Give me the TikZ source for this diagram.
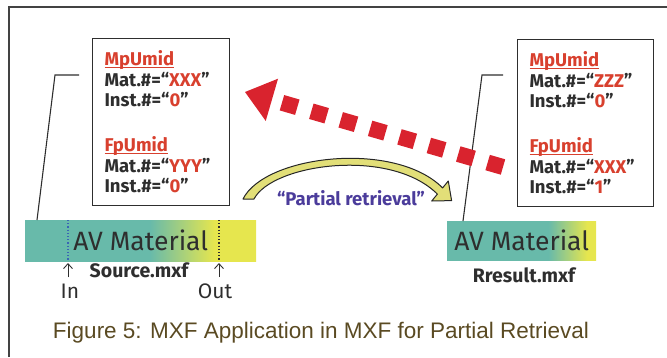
\documentclass[tikz,border=0pt]{standalone}
\usepackage{fontspec}
\usepackage{tikz}
\usetikzlibrary{positioning, arrows.meta, calc}
\setmainfont{Fira Sans}
\newfontfamily\capfont{Liberation Sans}
\usepackage{xcolor}

\definecolor{umidred}{HTML}{D8402E}
\definecolor{inkgray}{HTML}{2E2E2E}
\definecolor{avteal}{HTML}{68BAAA}
\definecolor{avyellow}{HTML}{E6E64E}
\definecolor{arrred}{HTML}{D9232E}
\definecolor{retpurple}{HTML}{4B3C9B}
\definecolor{capolive}{HTML}{5A4A22}
\definecolor{bendyellow}{HTML}{E2DF78}
\definecolor{inblue}{HTML}{3A64B4}

\pgfdeclarehorizontalshading{srcshade}{100bp}{color(0bp)=(avteal); color(52bp)=(avteal); color(66bp)=(avyellow); color(100bp)=(avyellow)}
\pgfdeclarehorizontalshading{resshade}{100bp}{color(0bp)=(avteal); color(59bp)=(avteal); color(72bp)=(avyellow); color(100bp)=(avyellow)}

\newcommand{\umid}[1]{\textcolor{umidred}{\setbox0\hbox{#1}\rlap{\rule[-2.5pt]{\wd0}{1.3pt}}\box0}}
\newcommand{\hl}[1]{\textcolor{umidred}{#1}}

\tikzset{
  umidbox/.style={draw=inkgray, line width=1.1pt, text=inkgray, align=left, anchor=north west,
    minimum width=137pt, minimum height=167pt, text width=113pt, inner xsep=12pt,
    font=\bfseries\fontsize{18.5}{20.5}\selectfont},
  avbar/.style={anchor=north west, inner sep=0pt, text=inkgray, font=\fontsize{26.5}{30}\selectfont},
  filelbl/.style={anchor=base, text=inkgray, font=\bfseries\fontsize{19.5}{22}\selectfont},
  marklbl/.style={anchor=base, inner sep=0pt, text=inkgray, font=\fontsize{21}{24}\selectfont},
  markarr/.style={inkgray, line width=0.9pt, -{Straight Barb[length=5pt, width=9pt]}},
  lead/.style={inkgray, line width=1.1pt},
  retarrow/.style={arrred, line width=16pt, dash pattern=on 16pt off 14.6pt,
    -{Triangle[length=28pt, width=44pt, line width=0pt]}},
  bendarrow/.style={fill=bendyellow, draw=black!85, line width=1pt, line join=round}
}

\begin{document}
\begin{tikzpicture}[x=1pt, y=-1pt]
\useasboundingbox (0,0) rectangle (667,357);
% frame
\draw[inkgray!90, line width=1.5pt] (9,357) -- (9,7) -- (667,7);

% UMID boxes
\node[umidbox] (lbox) at (92,38) {\umid{MpUmid}\\
Mat.\#=“\hl{XXX}”\\
Inst.\#=“\hl{0}”\\[24.5pt]
\umid{FpUmid}\\
Mat.\#=“\hl{YYY}”\\
Inst.\#=“\hl{0}”};
\node[umidbox, minimum width=136pt, text width=112pt] (rbox) at (517,39) {\umid{MpUmid}\\
Mat.\#=“\hl{ZZZ}”\\
Inst.\#=“\hl{0}”\\[24.5pt]
\umid{FpUmid}\\
Mat.\#=“\hl{XXX}”\\
Inst.\#=“\hl{1}”};

% AV material bars
\node[avbar, shading=srcshade, minimum width=231pt, minimum height=41pt] (lbar) at (25,220) {AV Material};
\node[avbar, shading=resshade, minimum width=149pt, minimum height=39pt] (rbar) at (447,221) {AV Material};

% leads from boxes to bars
\coordinate (lhook) at (79,75);
\coordinate (rhook) at (503,75);
\draw[lead] (lhook) -- ++(-24,0) -- ([xshift=12pt]lbar.north west);
\draw[lead] (rhook) -- ++(-21,0) -- ([xshift=16pt]rbar.north west);

% in / out points
\draw[inblue, line width=1.2pt, dotted] ([xshift=43pt]lbar.north west) -- ([xshift=43pt]lbar.south west);
\draw[inkgray, line width=1.2pt, dotted] ([xshift=194pt]lbar.north west) -- ([xshift=194pt]lbar.south west);
\node[marklbl] (inlbl) at (70,298) {In};
\node[marklbl] (outlbl) at (215,298) {Out};
\coordinate (inpt) at (68,263);
\coordinate (outpt) at (219,263);
\draw[markarr, shorten <=6pt] (inlbl.north -| inpt) -- (inpt);
\draw[markarr, shorten <=6pt] (outlbl.north -| outpt) -- (outpt);

\node[filelbl] (srclbl) at (139,277) {Source.mxf};
\node[filelbl] (reslbl) at (524,282) {Rresult.mxf};

% retrieval
\coordinate (dstart) at (503,167);
\coordinate (dtip) at (245,92);
\draw[retarrow] (dstart) -- (dtip);
\filldraw[bendarrow] (243,199) .. controls (265,155) and (395,140) .. (442.6,187.9)
  -- (448.3,181) -- (451.6,200.6) -- (431.7,201) -- (437.4,194.1)
  .. controls (390,147) and (272,164) .. (254,199) -- cycle;
\node[anchor=base, text=retpurple, font=\bfseries\fontsize{18.5}{21}\selectfont] (partlbl) at (351,205) {“Partial retrieval”};

% caption
\node[anchor=base, text=capolive, font=\capfont\fontsize{22.5}{26}\selectfont] (caption) at (321,338) {Figure 5: MXF Application in MXF for Partial Retrieval};
\end{tikzpicture}
\end{document}
